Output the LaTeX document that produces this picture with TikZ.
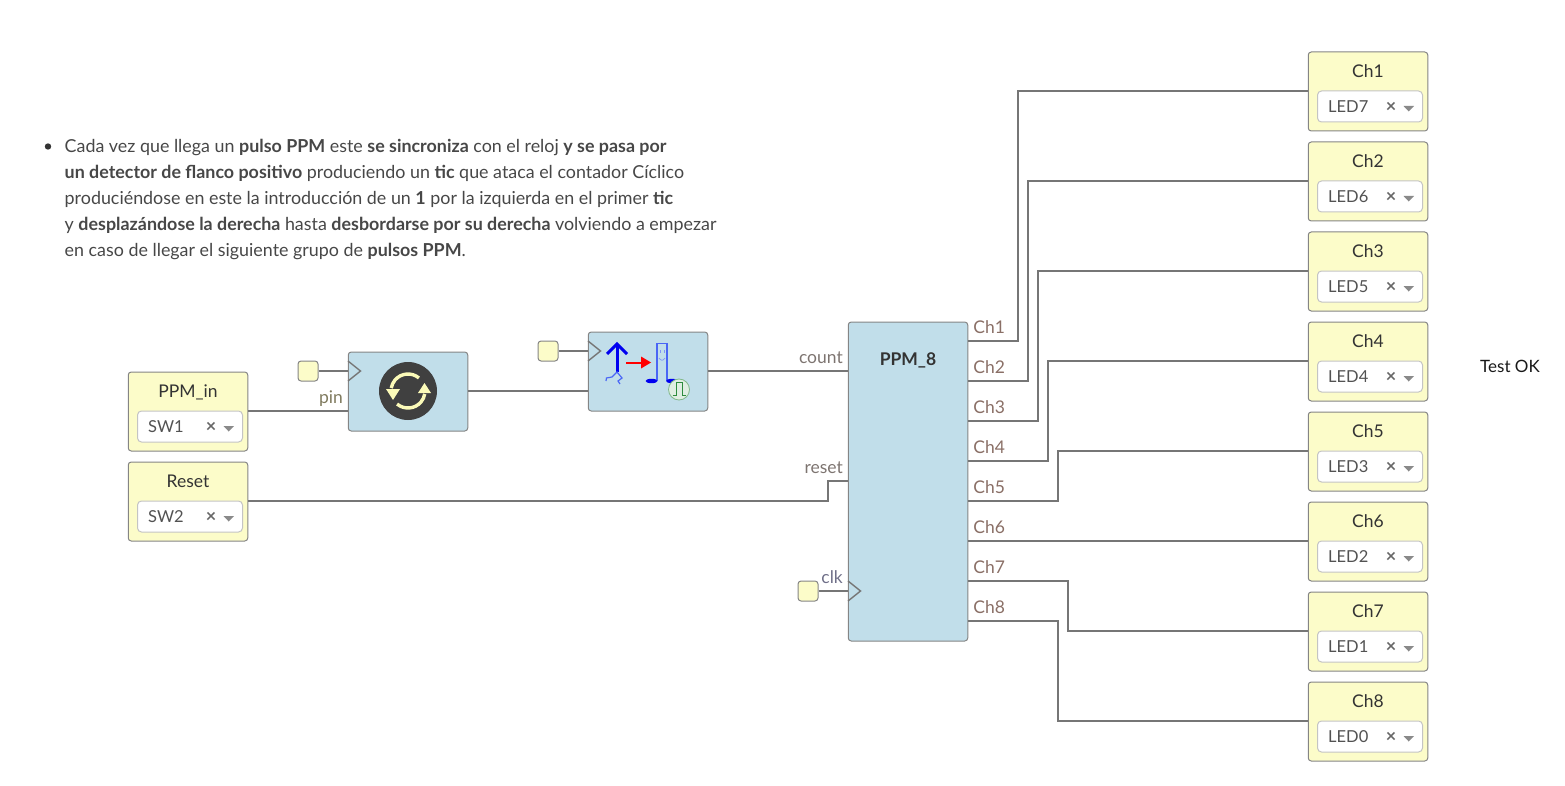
\documentclass[tikz,border=0pt]{standalone}
\usepackage{fontspec}
\setmainfont{Lato}
\usetikzlibrary{calc}
\definecolor{wirec}{HTML}{767676}
\definecolor{edgec}{HTML}{858585}
\definecolor{yel}{HTML}{FCFCC9}
\definecolor{blu}{HTML}{C1DEEA}
\definecolor{txt}{HTML}{333333}
\definecolor{lab}{HTML}{7D7470}
\definecolor{labch}{HTML}{8A6F66}
\definecolor{labclk}{HTML}{6F6F88}
\definecolor{labpin}{HTML}{7F7A5E}
\definecolor{selb}{HTML}{C4C4C4}
\definecolor{mk}{HTML}{666666}
\definecolor{tri}{HTML}{8A8A8A}
\definecolor{cream}{HTML}{FBFAB8}
\definecolor{bluA}{HTML}{0000F0}
\definecolor{bluB}{HTML}{4A66F5}
\definecolor{grn}{HTML}{2E8B3E}
\tikzset{
  x=1pt,y=-1pt,
  wire/.style={draw=wirec,line width=1.6pt},
  yblock/.style={draw=edgec,fill=yel,rounded corners=3pt,line width=1pt,minimum width=119.5pt,minimum height=79pt,inner sep=0pt},
  bblock/.style={draw=edgec,fill=blu,rounded corners=3pt,line width=1pt,inner sep=0pt,minimum width=119.5pt},
  ysq/.style={draw=edgec,fill=yel,rounded corners=3pt,line width=1pt,minimum width=20pt,minimum height=20pt,inner sep=0pt},
  selbox/.style={draw=selb,fill=white,rounded corners=4pt,line width=1pt,minimum width=105pt,minimum height=31pt,inner sep=0pt},
  ttl/.style={text=txt,font=\fontsize{17.5}{20}\selectfont,inner sep=0pt,anchor=base},
  seltxt/.style={text=txt!85,font=\fontsize{16.5}{20}\selectfont,inner sep=0pt,anchor=base west},
  portl/.style={text=lab,font=\fontsize{17.5}{20}\selectfont,inner sep=0pt,anchor=base east},
  portr/.style={text=labch,font=\fontsize{17.5}{20}\selectfont,inner sep=0pt,anchor=base west},
  clockmk/.style={draw=wirec,line width=1.4pt,line join=miter},
}
\newcommand{\selblock}[5]{%
  \node[yblock] (#1) at (#2,#3) {};
  \node[ttl] (#1t) at (#2,#3-13.8) {#4};
  \node[selbox] (#1s) at (#2+2,#3+15) {};
  \node[seltxt] (#1v) at (#2-40,#3+21) {#5};
  \node[inner sep=0pt,text=mk,font=\fontsize{18}{18}\selectfont\bfseries] (#1x) at (#2+23,#3+16) {×};
  \fill[tri] (#2+35.5,#3+14.5) -- (#2+46,#3+14.5) -- (#2+40.7,#3+20) -- cycle;
}
\begin{document}
\begin{tikzpicture}
\useasboundingbox (0,0) rectangle (1565,786);

% text
\node[anchor=north west,inner sep=0pt,text=txt!90,align=left,font=\fontsize{17.87}{26}\selectfont] (para) at (64.5,139.5) {%
Cada vez que llega un \textbf{pulso PPM} este \textbf{se sincroniza} con el reloj \textbf{y se pasa por}\\
\textbf{un detector de flanco positivo} produciendo un \textbf{tic} que ataca el contador Cíclico\\
produciéndose en este la introducción de un \textbf{1} por la izquierda en el primer \textbf{tic}\\
y \textbf{desplazándose la derecha} hasta \textbf{desbordarse por su derecha} volviendo a empezar\\
en caso de llegar el siguiente grupo de \textbf{pulsos PPM}.};
\fill[txt] (48,146.5) circle[radius=3.2pt];
\node[anchor=base west,inner sep=0pt,text=black!90,font=\fontsize{17}{20}\selectfont] (ok) at (1480,372) {Test OK};

% blocks
\selblock{in1}{188}{411.5}{PPM\_in}{SW1}
\selblock{in2}{188}{501.5}{Reset}{SW2}
\selblock{c1}{1368}{91.5}{Ch1}{LED7}
\selblock{c2}{1368}{181.5}{Ch2}{LED6}
\selblock{c3}{1368}{271.5}{Ch3}{LED5}
\selblock{c4}{1368}{361.5}{Ch4}{LED4}
\selblock{c5}{1368}{451.5}{Ch5}{LED3}
\selblock{c6}{1368}{541.5}{Ch6}{LED2}
\selblock{c7}{1368}{631.5}{Ch7}{LED1}
\selblock{c8}{1368}{721.5}{Ch8}{LED0}

\node[bblock,minimum height=79pt] (ff) at (408,391.5) {};
\node[bblock,minimum height=79pt] (ed) at (648,371.5) {};
\node[bblock,minimum height=319pt] (ppm) at (908,481.5) {};
\node[ysq] (s1) at (308,371) {};
\node[ysq] (s2) at (548,351) {};
\node[ysq] (s3) at (808,591) {};
\node[inner sep=0pt,text=txt,font=\fontsize{17.5}{20}\selectfont\bfseries] (ppmt) at (908,360) {PPM\_8};

% ports
\coordinate (ffclk) at (348,371);
\coordinate (ffd) at (348,411);
\coordinate (ffq) at (468,391);
\coordinate (edclk) at (588,351);
\coordinate (edd) at (588,391);
\coordinate (edq) at (708,371);
\coordinate (pcnt) at (848,371);
\coordinate (prst) at (848,481);
\coordinate (pclk) at (848,591);
\foreach \i/\y in {1/341,2/381,3/421,4/461,5/501,6/541,7/581,8/621}{
  \coordinate (o\i) at (968,\y);
  \node[portr] (ol\i) at (973.2,\y-7.5) {Ch\i};
}
\foreach \i/\y in {1/91,2/181,3/271,4/361,5/451,6/541,7/631,8/721}{
  \coordinate (i\i) at (1308,\y);
}
\coordinate (in1p) at (248,411);
\coordinate (in2p) at (248,501);
\node[portl,text=labpin] (lpin) at (343,403.5) {pin};
\node[portl] (lcnt) at (843,363.5) {count};
\node[portl] (lrst) at (843,473.5) {reset};
\node[portl,text=labclk] (lclk) at (843,583.5) {clk};

% wires
\draw[wire] (s1.east) -- (ffclk);
\draw[wire] (s2.east) -- (edclk);
\draw[wire] (s3.east) -- (pclk);
\draw[wire] (in1p) -- (ffd);
\draw[wire] (ffq) -- (edd);
\draw[wire] (edq) -- (pcnt);
\draw[wire] (in2p) -- (828,501) -- (828,481) -- (prst);
\draw[wire] (o1) -- (1018,341) |- (i1);
\draw[wire] (o2) -- (1028,381) |- (i2);
\draw[wire] (o3) -- (1038,421) |- (i3);
\draw[wire] (o4) -- (1048,461) |- (i4);
\draw[wire] (o5) -- (1058,501) |- (i5);
\draw[wire] (o6) -- (i6);
\draw[wire] (o7) -- (1068,581) |- (i7);
\draw[wire] (o8) -- (1058,621) |- (i8);

% clock marks
\draw[clockmk] (348,361) -- (360.5,371) -- (348,381);
\draw[clockmk] (588,341) -- (600.5,351) -- (588,361);
\draw[clockmk] (848,581) -- (860.5,591) -- (848,601);

% sync icon
\coordinate (ic) at (408,391);
\fill[black!75] (ic) circle[radius=29pt];
\draw[cream,line width=3.4pt] (ic) ++(50:17pt) arc[start angle=50,end angle=170,radius=17pt];
\draw[cream,line width=3.4pt] (ic) ++(230:17pt) arc[start angle=230,end angle=350,radius=17pt];
\fill[cream] (386,389) -- (400,389) -- (393,400) -- cycle;
\fill[cream] (418,393) -- (431,393) -- (424.5,383) -- cycle;

% edge detector icon
\draw[bluA,line width=3pt] (617,344) -- (617,372);
\draw[bluA,line width=3pt] (607,354) -- (617,344) -- (627,354);
\draw[bluB,line width=1.2pt] (606,381) -- (606.5,378) -- (612,377) -- (617,372) -- (622,378) -- (618,381) -- (620,384);
\draw[red,line width=2pt] (626,362.5) -- (642,362.5);
\fill[red] (641,356.5) -- (651,362.5) -- (641,368.5) -- cycle;
\draw[bluB,line width=1.4pt] (657,381) -- (657,343.5) -- (667,343.5) -- (667,381);
\fill[bluA] (651.5,381) ellipse[x radius=6pt,y radius=2.2pt];
\fill[bluA] (672,381) ellipse[x radius=6pt,y radius=2.2pt];
\draw[bluB!70,line width=.7pt] (660,350) -- (660,353) (664,350) -- (664,353);
\draw[bluB!70,line width=.7pt] (659,358) .. controls (661,361) and (663,361) .. (665,358);
\fill[white!85!grn,draw=grn!60,line width=.8pt] (679,389.5) circle[radius=10.5pt];
\draw[grn,line width=1pt] (672.5,395) -- (676,395) -- (676,382.5) -- (682,382.5) -- (682,395) -- (685.5,395);
\end{tikzpicture}
\end{document}
